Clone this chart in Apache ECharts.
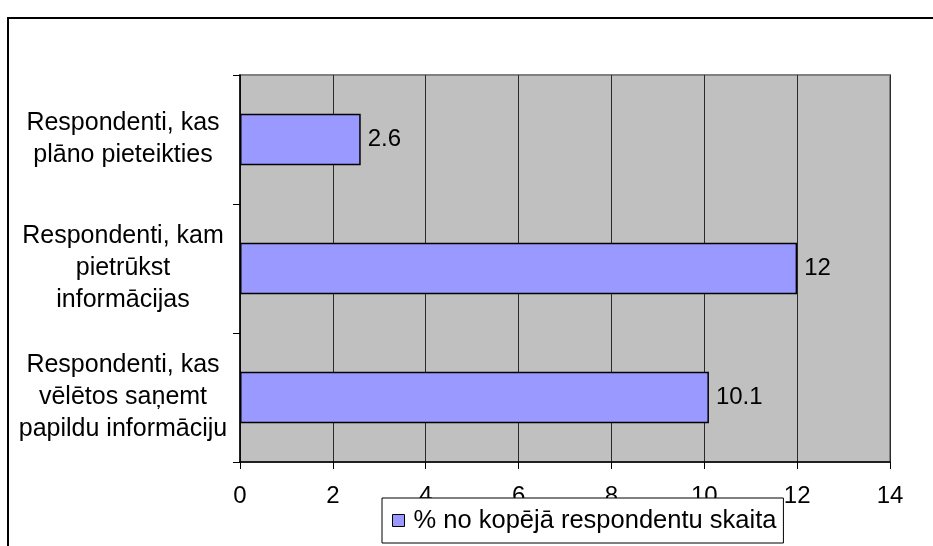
<!DOCTYPE html>
<html>
<head>
<meta charset="utf-8">
<script src="https://cdn.jsdelivr.net/npm/echarts@6/dist/echarts.min.js"></script>
<style>
html,body{margin:0;padding:0;background:#fff;}
#chart{width:933px;height:546px;}
</style>
</head>
<body>
<div id="chart"></div>
<script>
const categories = [
  "Respondenti, kas\nplāno pieteikties",
  "Respondenti, kam\npietrūkst\ninformācijas",
  "Respondenti, kas\nvēlētos saņemt\npapildu informāciju"
];
const values = [2.6, 12, 10.1];
const seriesName = "% no kopējā respondentu skaita";
const xTicks = [0, 2, 4, 6, 8, 10, 12, 14];

const FONT = "'Liberation Sans', Arial, sans-serif";
const chart = echarts.init(document.getElementById('chart'));
chart.setOption({
  animation: false,
  backgroundColor: '#ffffff',
  graphic: [{
    type: 'rect',
    shape: {x: 8, y: 18, width: 1000, height: 600},
    style: {fill: 'none', stroke: '#000', lineWidth: 2},
    z: -1, silent: true
  }],
  grid: {
    left: 240, right: 43, top: 75, bottom: 84,
    show: true, backgroundColor: '#C0C0C0', borderColor: '#808080', borderWidth: 2
  },
  xAxis: {
    type: 'value', min: xTicks[0], max: xTicks[xTicks.length - 1], interval: 2,
    axisLine: {show: true, lineStyle: {color: '#000', width: 1.5}},
    axisTick: {show: true, length: 7, lineStyle: {color: '#000'}},
    axisLabel: {color: '#000', fontFamily: FONT, fontSize: 24, margin: 22},
    splitLine: {show: true, lineStyle: {color: '#2a2a2a', width: 1}}
  },
  yAxis: {
    type: 'category', data: categories, inverse: true,
    axisLine: {show: true, lineStyle: {color: '#000', width: 1.5}},
    axisTick: {show: true, length: 7, lineStyle: {color: '#000'}},
    axisLabel: {color: '#000', fontFamily: FONT, fontSize: 25, align: 'center', margin: 117, lineHeight: 32},
    splitLine: {show: false}
  },
  legend: {
    data: [seriesName],
    left: 382, top: 498,
    padding: [8, 7, 8, 10],
    backgroundColor: '#fff', borderColor: '#000', borderWidth: 1,
    itemWidth: 12, itemHeight: 12, icon: 'rect',
    itemStyle: {borderColor: '#000', borderWidth: 1},
    textStyle: {color: '#000', fontFamily: FONT, fontSize: 25.5, lineHeight: 29, padding: [0, 0, 0, 4]},
    z: 10
  },
  series: [{
    name: seriesName, type: 'bar', data: values, barWidth: '40%',
    itemStyle: {color: '#9999FF', borderColor: '#000', borderWidth: 1.5},
    label: {show: true, position: 'right', distance: 7, color: '#000', fontFamily: FONT, fontSize: 24}
  }]
});
</script>
</body>
</html>
